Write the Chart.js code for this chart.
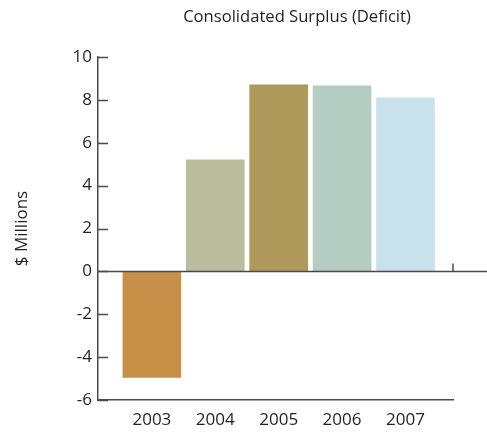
<!DOCTYPE html>
<html>
<head>
<meta charset="utf-8">
<script src="https://cdn.jsdelivr.net/npm/chart.js@4/dist/chart.umd.min.js"></script>
<style>
  html, body { margin: 0; padding: 0; background: #ffffff; }
  #wrap { width: 487px; height: 434px; }
</style>
</head>
<body>
<div id="wrap"><canvas id="chart" width="487" height="434"></canvas></div>
<script>
// Consolidated surplus (deficit) by fiscal year, $ millions
const years = [2003, 2004, 2005, 2006, 2007];
const surplus = [-4.95, 5.2, 8.7, 8.65, 8.1];
const barColors = ['#c78f48', '#babd9b', '#ae995b', '#b5ccc3', '#c9e1ea'];
const yMin = -6, yMax = 10, yStep = 2;
const chartTitle = 'Consolidated Surplus (Deficit)';
const yTitle = '$ Millions';

const FONT = '"Open Sans", "DejaVu Sans", sans-serif';
const AXIS = '#4a4a4a';
const TEXT = '#231f20';

// Inward tick marks on the value axis, the zero baseline running to the
// right edge, and the small upright tick where the baseline meets the plot edge.
const axisDecor = {
  id: 'axisDecor',
  afterDatasetsDraw(chart) {
    const { ctx, chartArea } = chart;
    const y = chart.scales.y;
    ctx.save();
    ctx.strokeStyle = AXIS;
    ctx.lineWidth = 1.5;
    y.ticks.forEach(t => {
      const py = Math.round(y.getPixelForValue(t.value)) + 0.5;
      ctx.beginPath();
      ctx.moveTo(chartArea.left, py);
      ctx.lineTo(chartArea.left + 10, py);
      ctx.stroke();
    });
    const y0 = Math.round(y.getPixelForValue(0)) + 0.5;
    ctx.beginPath();
    ctx.moveTo(chartArea.left, y0);
    ctx.lineTo(chart.width, y0);
    ctx.stroke();
    ctx.beginPath();
    ctx.moveTo(chartArea.right, y0);
    ctx.lineTo(chartArea.right, y0 - 8);
    ctx.stroke();
    ctx.restore();
  },
  afterDraw(chart) {
    const { ctx } = chart;
    ctx.save();
    ctx.fillStyle = TEXT;
    ctx.font = '16.6px ' + FONT;
    ctx.textAlign = 'center';
    ctx.textBaseline = 'middle';
    ctx.fillText(chartTitle, 297, 17);
    ctx.restore();
  }
};

new Chart(document.getElementById('chart'), {
  type: 'bar',
  data: {
    datasets: [{
      data: years.map((yr, i) => ({ x: yr, y: surplus[i] })),
      backgroundColor: barColors,
      borderWidth: 0,
      barThickness: 58
    }]
  },
  options: {
    responsive: false,
    animation: false,
    layout: { padding: { top: 57, right: 34, bottom: 0, left: 0 } },
    plugins: {
      legend: { display: false },
      title: { display: false },
      tooltip: { enabled: false }
    },
    scales: {
      x: {
        type: 'linear',
        offset: false,
        min: 2002.15,
        max: 2007.75,
        afterBuildTicks: s => { s.ticks = years.map(v => ({ value: v })); },
        afterFit: s => { s.height = 34; },
        grid: { display: true, drawOnChartArea: false, drawTicks: false, offset: false },
        border: { display: true, color: AXIS, width: 1.5 },
        ticks: {
          padding: 10,
          color: TEXT,
          font: { family: FONT, size: 17 },
          callback: v => String(v),
          autoSkip: false,
          maxRotation: 0
        }
      },
      y: {
        min: yMin,
        max: yMax,
        afterFit: s => { s.width = 98; },
        grid: { display: true, drawOnChartArea: false, drawTicks: false },
        border: { display: true, color: AXIS, width: 1.5 },
        ticks: {
          stepSize: yStep,
          padding: 6,
          color: TEXT,
          font: { family: FONT, size: 17 }
        },
        title: {
          display: true,
          text: yTitle,
          color: TEXT,
          font: { family: FONT, size: 17 },
          padding: { top: 12, bottom: 0 }
        }
      }
    }
  },
  plugins: [axisDecor]
});
</script>
</body>
</html>
